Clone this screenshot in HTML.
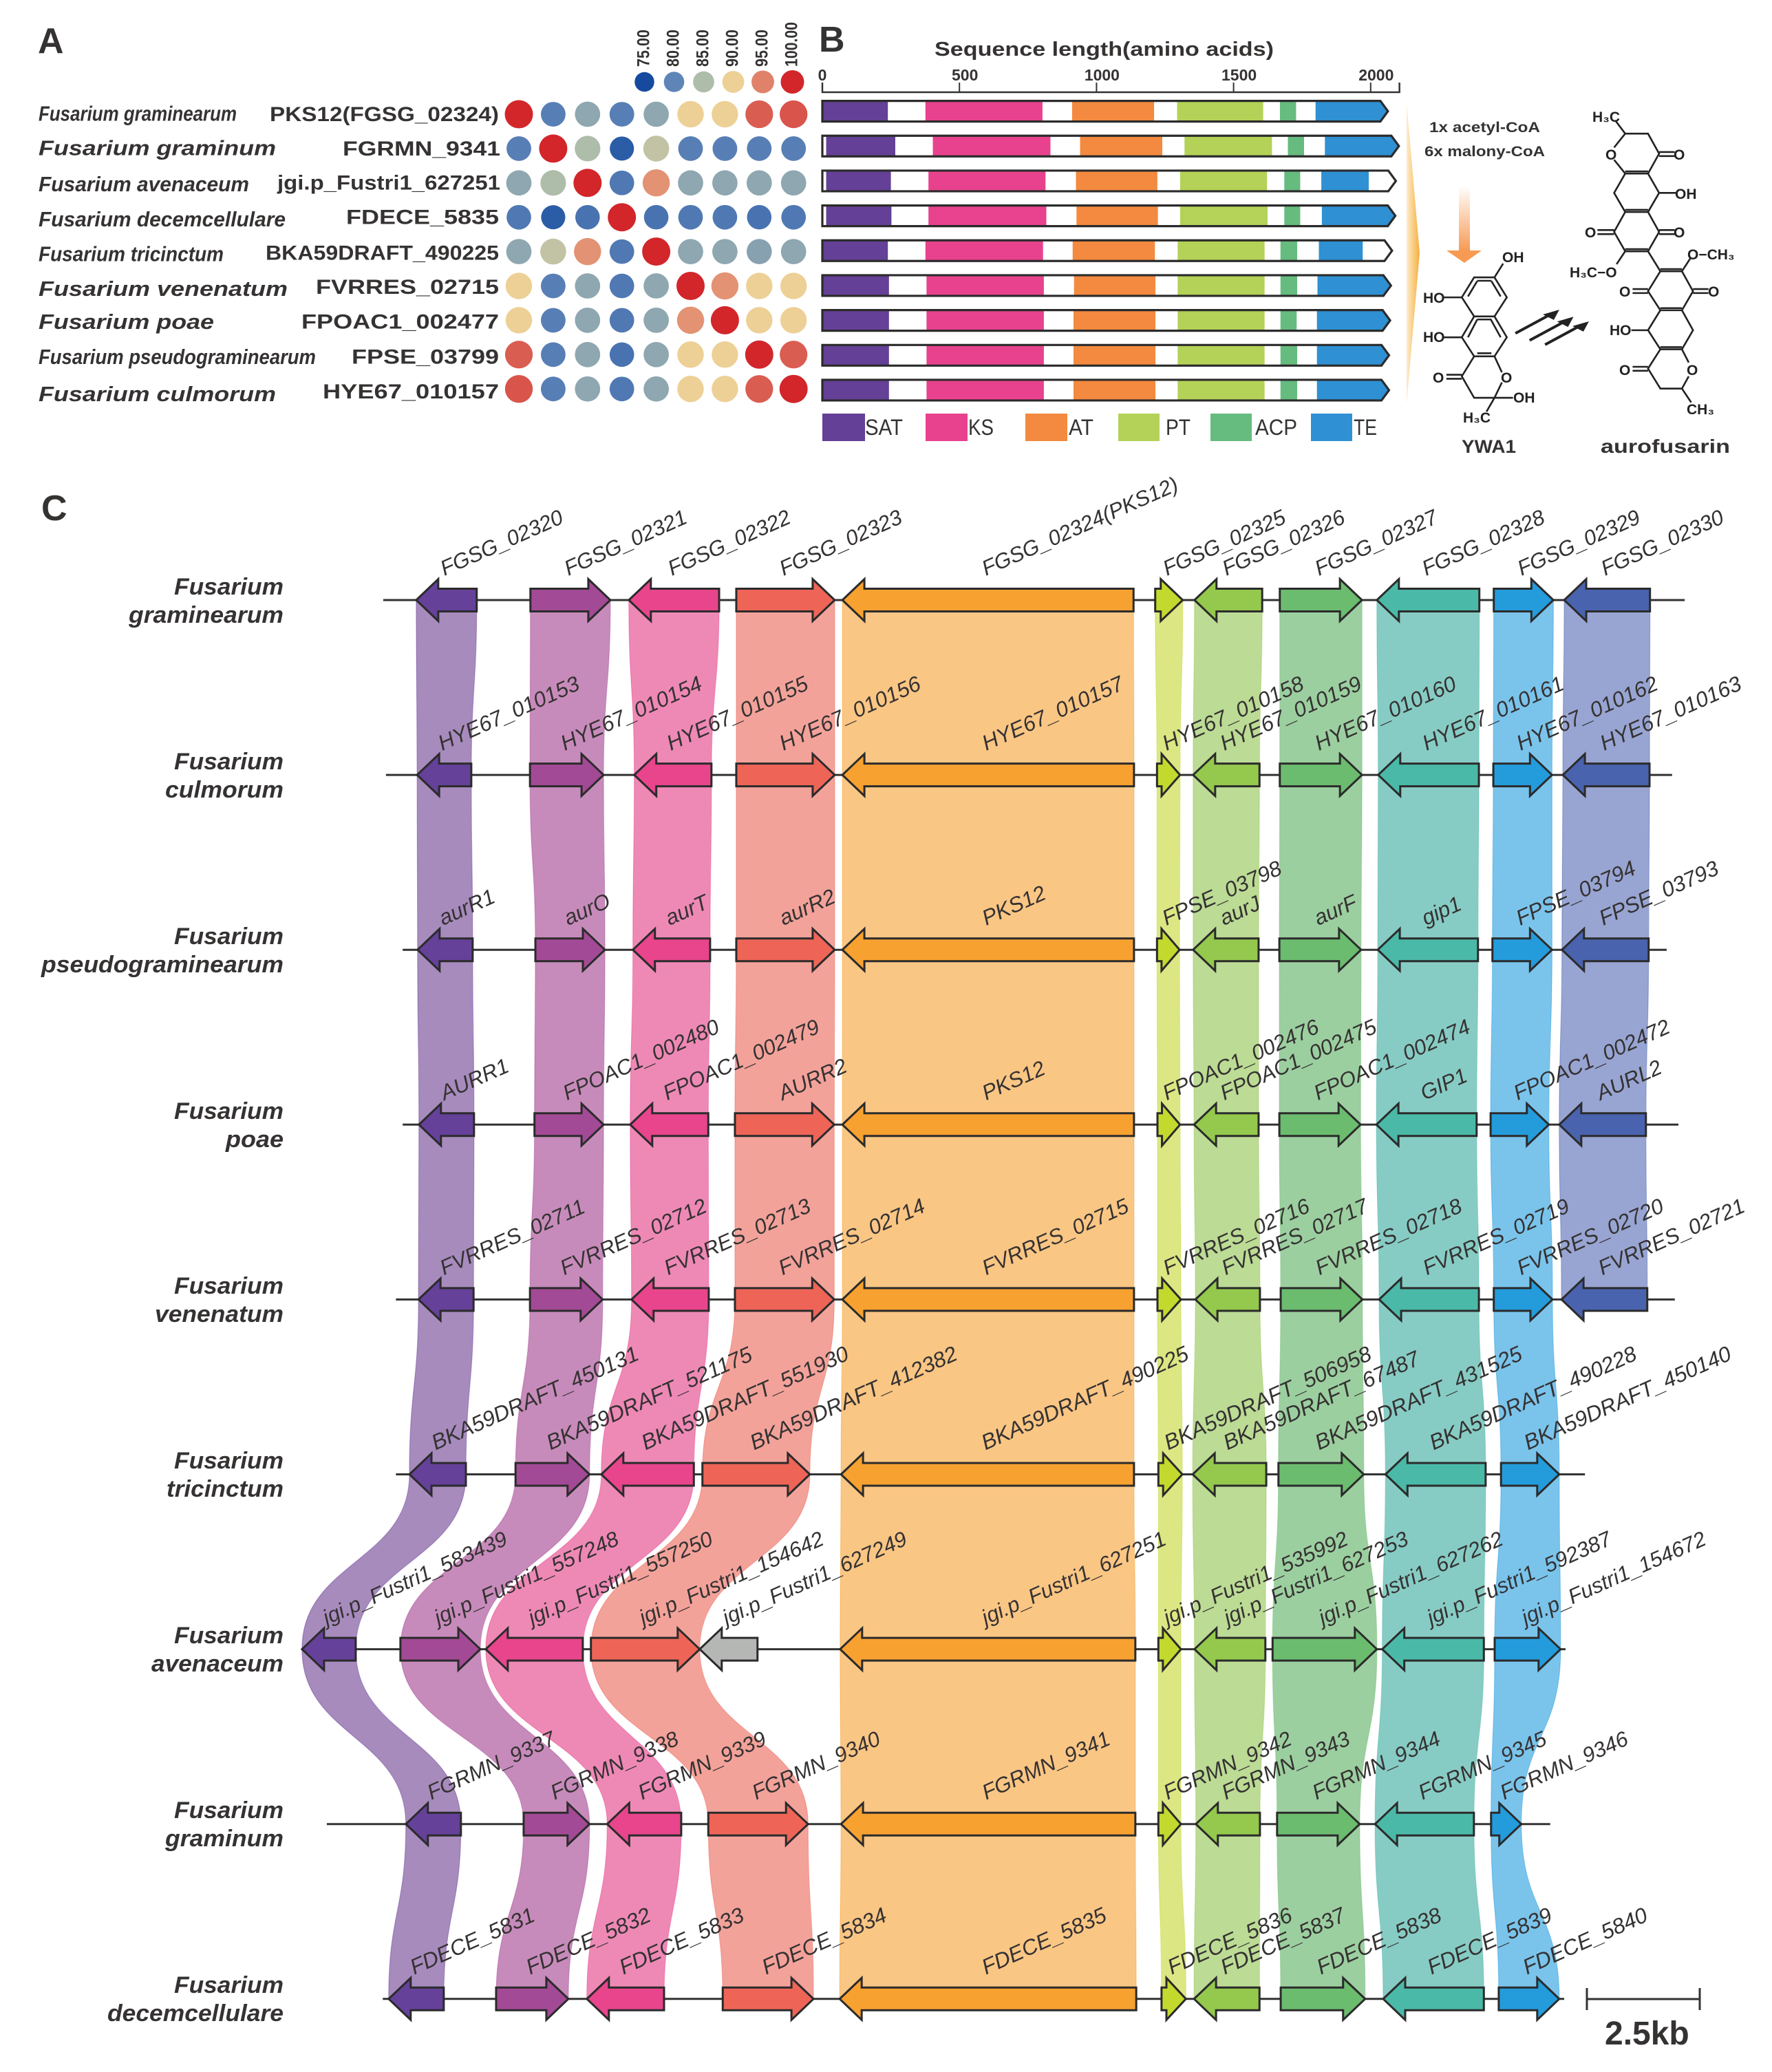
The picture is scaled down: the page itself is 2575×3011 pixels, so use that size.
<!DOCTYPE html>
<html lang="en">
<head>
<meta charset="utf-8">
<title>Aurofusarin PKS12 gene cluster comparison</title>
<style>
  html,body{margin:0;padding:0;background:#fff;}
  svg{display:block;}
  text{font-family:"Liberation Sans",sans-serif;fill:#353232;}
  .letter{font-size:52px;font-weight:700;}
  .sp{font-size:31px;font-weight:700;font-style:italic;}
  .gid{font-size:30px;font-weight:700;}
  .spc{font-size:34px;font-weight:700;font-style:italic;text-anchor:end;}
  .leg{font-size:32px;}
  .chem{font-size:21px;font-weight:700;fill:#222;}
  .bond path,.bond polygon{vector-effect:non-scaling-stroke;}
</style>
</head>
<body>
<svg id="figure" xmlns="http://www.w3.org/2000/svg" width="2575" height="3011" viewBox="0 0 2575 3011">
  <defs>
    <linearGradient id="fanGrad" x1="0" y1="0" x2="1" y2="0"><stop offset="0" stop-color="#fdeccb"/><stop offset="1" stop-color="#f5ae3f"/></linearGradient>
    <linearGradient id="arrowGrad" x1="0" y1="0" x2="0" y2="1"><stop offset="0" stop-color="#ffffff"/><stop offset="1" stop-color="#f79a54"/></linearGradient>
  </defs>
  <rect width="2575" height="3011" fill="#fff"/>

  <text class="letter" x="55" y="77">A</text>
  <text class="letter" x="1190" y="75">B</text>
  <text class="letter" x="60" y="756">C</text>

  <g id="panelA">
    <g>
      <text class="sp" x="56" y="175.5" textLength="288" lengthAdjust="spacingAndGlyphs">Fusarium graminearum</text>
      <text class="sp" x="56" y="225.7" textLength="345" lengthAdjust="spacingAndGlyphs">Fusarium graminum</text>
      <text class="sp" x="56" y="278" textLength="306" lengthAdjust="spacingAndGlyphs">Fusarium avenaceum</text>
      <text class="sp" x="56" y="329" textLength="359" lengthAdjust="spacingAndGlyphs">Fusarium decemcellulare</text>
      <text class="sp" x="56" y="379.6" textLength="269" lengthAdjust="spacingAndGlyphs">Fusarium tricinctum</text>
      <text class="sp" x="56" y="430" textLength="362" lengthAdjust="spacingAndGlyphs">Fusarium venenatum</text>
      <text class="sp" x="56" y="478" textLength="255" lengthAdjust="spacingAndGlyphs">Fusarium poae</text>
      <text class="sp" x="56" y="529" textLength="403" lengthAdjust="spacingAndGlyphs">Fusarium pseudograminearum</text>
      <text class="sp" x="56" y="583" textLength="345" lengthAdjust="spacingAndGlyphs">Fusarium culmorum</text>
    </g>
    <g>
      <text class="gid" x="392" y="176" textLength="333" lengthAdjust="spacingAndGlyphs">PKS12(FGSG_02324)</text>
      <text class="gid" x="498" y="226" textLength="229" lengthAdjust="spacingAndGlyphs">FGRMN_9341</text>
      <text class="gid" x="403" y="275.5" textLength="324" lengthAdjust="spacingAndGlyphs">jgi.p_Fustri1_627251</text>
      <text class="gid" x="503" y="325.7" textLength="222" lengthAdjust="spacingAndGlyphs">FDECE_5835</text>
      <text class="gid" x="386" y="377.5" textLength="339" lengthAdjust="spacingAndGlyphs">BKA59DRAFT_490225</text>
      <text class="gid" x="459" y="427" textLength="266" lengthAdjust="spacingAndGlyphs">FVRRES_02715</text>
      <text class="gid" x="438" y="477.5" textLength="287" lengthAdjust="spacingAndGlyphs">FPOAC1_002477</text>
      <text class="gid" x="511" y="528.6" textLength="214" lengthAdjust="spacingAndGlyphs">FPSE_03799</text>
      <text class="gid" x="469" y="579" textLength="256" lengthAdjust="spacingAndGlyphs">HYE67_010157</text>
    </g>
    <g id="dots"></g>
    <g id="dotLegend"></g>
  </g>

  <g id="panelB">
    <text x="1358" y="81" font-size="29" font-weight="700" textLength="493" lengthAdjust="spacingAndGlyphs">Sequence length(amino acids)</text>
    <g id="bAxis"></g>
    <g id="bBars"></g>
    <g>
      <rect x="1195" y="601" width="62" height="40" fill="#644096"/>
      <text class="leg" x="1257" y="632" textLength="55" lengthAdjust="spacingAndGlyphs">SAT</text>
      <rect x="1345" y="601" width="61" height="40" fill="#e8428e"/>
      <text class="leg" x="1407" y="632" textLength="37" lengthAdjust="spacingAndGlyphs">KS</text>
      <rect x="1490" y="601" width="61" height="40" fill="#f38a3f"/>
      <text class="leg" x="1553" y="632" textLength="36" lengthAdjust="spacingAndGlyphs">AT</text>
      <rect x="1625" y="601" width="60" height="40" fill="#b3d257"/>
      <text class="leg" x="1694" y="632" textLength="36" lengthAdjust="spacingAndGlyphs">PT</text>
      <rect x="1759" y="601" width="60" height="40" fill="#66bb7f"/>
      <text class="leg" x="1824" y="632" textLength="61" lengthAdjust="spacingAndGlyphs">ACP</text>
      <rect x="1905" y="601" width="60" height="40" fill="#2f90d3"/>
      <text class="leg" x="1967" y="632" textLength="34" lengthAdjust="spacingAndGlyphs">TE</text>
    </g>
    <polygon points="2044,150 2063,368 2044,587" fill="url(#fanGrad)"/>
    <text x="2077" y="192" font-size="21" font-weight="700" textLength="161" lengthAdjust="spacingAndGlyphs">1x acetyl-CoA</text>
    <text x="2070" y="227" font-size="21" font-weight="700" textLength="175" lengthAdjust="spacingAndGlyphs">6x malony-CoA</text>
    <rect x="2120" y="270" width="16" height="95" fill="url(#arrowGrad)"/>
    <polygon points="2102,364 2153,364 2128,382" fill="#f79a54"/>

    <g class="bond" transform="translate(1170 0) scale(0.896 0.4464)" fill="none" stroke="#222" stroke-width="2.6">
      <path d="M1085 903L1118 903L1138 968L1118 1030L1085 1030L1065 968Z M1118 1030L1138 1098L1118 1160L1085 1160L1065 1098L1085 1030 M1085 1160L1065 1225L1085 1295L1118 1295 M1118 1160L1130 1212 M1130 1245L1118 1295 M1090 914L1113 914 M1128 965L1113 915 M1075 965L1090 915 M1090 1040L1113 1040 M1128 1098L1112 1040 M1075 1098L1090 1040 M1090 1150L1113 1150 M1118 903L1132 858 M1036 968L1065 968 M1036 1098L1065 1098 M1040 1220L1065 1220 M1040 1233L1065 1233 M1118 1295L1148 1295 M1118 1295L1105 1340"/>
    </g>
    <g class="bond" transform="translate(1170 0) scale(0.896 0.4464)" fill="none" stroke="#222" stroke-width="2.6">
      <path d="M1315 395L1330 435L1367 435L1385 500L1367 565L1330 565L1312 520 M1312 480L1330 435 M1330 565L1312 628L1330 690L1367 690L1385 628L1367 565 M1330 558L1367 558 M1330 690L1312 755L1330 818L1367 818L1385 755L1367 690 M1330 683L1367 683 M1330 811L1367 811 M1385 495L1410 495 M1385 508L1410 508 M1385 628L1412 628 M1285 749L1312 749 M1285 762L1312 762 M1385 749L1410 749 M1385 762L1410 762 M1330 818L1316 860 M1367 818L1387 883L1422 883L1440 948L1422 1010L1387 1010L1367 948L1387 883 M1387 876L1422 876 M1422 883L1436 840 M1342 941L1367 941 M1342 954L1367 954 M1440 941L1465 941 M1440 954L1465 954 M1387 1010L1367 1075L1387 1137L1422 1137L1440 1075L1422 1010 M1387 1003L1422 1003 M1340 1075L1367 1075 M1387 1137L1367 1200L1387 1265L1422 1265L1433 1225 M1433 1180L1422 1137 M1387 1130L1422 1130 M1342 1194L1367 1194 M1342 1207L1367 1207 M1422 1265L1437 1310"/>
    </g>
    <g class="bond" transform="translate(1170 0) scale(0.896 0.4464)" stroke="#222" stroke-width="4" fill="#222">
      <path d="M1152 1085L1212 1020 M1175 1108L1235 1043 M1200 1122L1260 1057" fill="none"/>
      <polygon stroke-width="1" points="1222,1010 1198,1024 1214,1040"/>
      <polygon stroke-width="1" points="1245,1033 1221,1047 1237,1063"/>
      <polygon stroke-width="1" points="1270,1048 1246,1062 1262,1078"/>
    </g>
    <g>
      <text class="chem" x="2183" y="381">OH</text>
      <text class="chem" x="2068" y="440">HO</text>
      <text class="chem" x="2068" y="497">HO</text>
      <text class="chem" x="2082" y="556">O</text>
      <text class="chem" x="2181" y="556">O</text>
      <text class="chem" x="2199" y="585">OH</text>
      <text class="chem" x="2126" y="614">H₃C</text>
      <text x="2124" y="658" font-size="27" font-weight="700" textLength="79" lengthAdjust="spacingAndGlyphs">YWA1</text>
      <text x="2326" y="658" font-size="28" font-weight="700" textLength="188" lengthAdjust="spacingAndGlyphs">aurofusarin</text>
      <text class="chem" x="2314" y="177">H₃C</text>
      <text class="chem" x="2333" y="232">O</text>
      <text class="chem" x="2432" y="232">O</text>
      <text class="chem" x="2434" y="289">OH</text>
      <text class="chem" x="2303" y="345">O</text>
      <text class="chem" x="2432" y="345">O</text>
      <text class="chem" x="2281" y="403">H₃C−O</text>
      <text class="chem" x="2452" y="377">O−CH₃</text>
      <text class="chem" x="2353" y="431">O</text>
      <text class="chem" x="2482" y="431">O</text>
      <text class="chem" x="2339" y="487">HO</text>
      <text class="chem" x="2353" y="545">O</text>
      <text class="chem" x="2451" y="545">O</text>
      <text class="chem" x="2451" y="602">CH₃</text>
    </g>
  </g>

  <g id="panelC">
    <g id="ribbons"></g>
    <g id="spines"></g>
    <g id="genes"></g>
    <g id="geneLabels"></g>
    <g>
      <text class="spc" x="412" y="864" textLength="159" lengthAdjust="spacingAndGlyphs">Fusarium</text>
      <text class="spc" x="412" y="905" textLength="225" lengthAdjust="spacingAndGlyphs">graminearum</text>
      <text class="spc" x="412" y="1118" textLength="159" lengthAdjust="spacingAndGlyphs">Fusarium</text>
      <text class="spc" x="412" y="1159" textLength="172" lengthAdjust="spacingAndGlyphs">culmorum</text>
      <text class="spc" x="412" y="1372" textLength="159" lengthAdjust="spacingAndGlyphs">Fusarium</text>
      <text class="spc" x="412" y="1413" textLength="352" lengthAdjust="spacingAndGlyphs">pseudograminearum</text>
      <text class="spc" x="412" y="1626" textLength="159" lengthAdjust="spacingAndGlyphs">Fusarium</text>
      <text class="spc" x="412" y="1667" textLength="84" lengthAdjust="spacingAndGlyphs">poae</text>
      <text class="spc" x="412" y="1880" textLength="159" lengthAdjust="spacingAndGlyphs">Fusarium</text>
      <text class="spc" x="412" y="1921" textLength="187" lengthAdjust="spacingAndGlyphs">venenatum</text>
      <text class="spc" x="412" y="2134" textLength="159" lengthAdjust="spacingAndGlyphs">Fusarium</text>
      <text class="spc" x="412" y="2175" textLength="170" lengthAdjust="spacingAndGlyphs">tricinctum</text>
      <text class="spc" x="412" y="2388" textLength="159" lengthAdjust="spacingAndGlyphs">Fusarium</text>
      <text class="spc" x="412" y="2429" textLength="192" lengthAdjust="spacingAndGlyphs">avenaceum</text>
      <text class="spc" x="412" y="2642" textLength="159" lengthAdjust="spacingAndGlyphs">Fusarium</text>
      <text class="spc" x="412" y="2683" textLength="172" lengthAdjust="spacingAndGlyphs">graminum</text>
      <text class="spc" x="412" y="2896" textLength="159" lengthAdjust="spacingAndGlyphs">Fusarium</text>
      <text class="spc" x="412" y="2937" textLength="256" lengthAdjust="spacingAndGlyphs">decemcellulare</text>
    </g>
    <g id="scaleBar"></g>
  </g>
</svg>

<script>
/* ---------- Panel A data: pairwise identity (%) ---------- */
const identityLegendValues = [75, 80, 85, 90, 95, 100];
const identityLegendColors = ['#154a9e', '#5f85b8', '#aebdaa', '#edd096', '#e0826a', '#d2262b'];
const identityGraminearum    = [100, 79.5, 83, 79.5, 83, 90, 90, 97, 97.5];
const identityGraminum       = [79.5, 100, 85, 76.5, 86.5, 79.5, 79.5, 79.5, 79.5];
const identityAvenaceum      = [83, 85, 100, 79, 94, 83, 83, 83, 83];
const identityDecemcellulare = [79, 76.5, 78.5, 100, 78.5, 79, 79, 78.5, 79];
const identityTricinctum     = [83, 86.5, 94, 79, 100, 83, 83, 82.5, 83];
const identityVenenatum      = [90, 79.5, 83, 79, 83, 100, 94, 90, 90];
const identityPoae           = [90, 79.5, 83, 79, 83, 94, 100, 90, 90];
const identityPseudo         = [97, 79.5, 83, 78.5, 83, 90, 90, 100, 97];
const identityCulmorum       = [97.5, 79.5, 83, 79, 83, 90, 90, 97, 100];
const identityMatrix = [identityGraminearum, identityGraminum, identityAvenaceum, identityDecemcellulare, identityTricinctum, identityVenenatum, identityPoae, identityPseudo, identityCulmorum];

/* ---------- Panel B data: domain boundaries (amino acids) ---------- */
const axisTicks = [0, 500, 1000, 1500, 2000];
const axisMax = 2105;
const proteinLength = [2063, 2103, 2092, 2090, 2078, 2074, 2071, 2067, 2067];
const proteinStart  = [0, 0, 0, 0, 0, 0, 0, 0, 0];
const domainNames = ['SAT', 'KS', 'AT', 'PT', 'ACP', 'TE'];
const satStart = [0, 14, 14, 14, 0, 0, 0, 0, 0];
const satEnd   = [239, 266, 250, 252, 239, 243, 243, 243, 243];
const ksStart  = [376, 403, 387, 387, 376, 380, 380, 380, 380];
const ksEnd    = [803, 832, 814, 817, 805, 808, 808, 808, 808];
const atStart  = [911, 940, 925, 927, 913, 918, 916, 916, 916];
const atEnd    = [1210, 1240, 1222, 1224, 1213, 1215, 1215, 1215, 1215];
const ptStart  = [1294, 1321, 1305, 1305, 1296, 1296, 1296, 1296, 1296];
const ptEnd    = [1608, 1640, 1622, 1624, 1613, 1613, 1613, 1613, 1613];
const acpStart = [1669, 1698, 1685, 1685, 1671, 1671, 1671, 1671, 1671];
const acpEnd   = [1728, 1757, 1743, 1743, 1732, 1732, 1730, 1732, 1732];
const teStart  = [1799, 1833, 1820, 1822, 1811, 1806, 1804, 1804, 1804];
const teEnd    = [2063, 2103, 1993, 2090, 1971, 2074, 2071, 2067, 2067];

/* ---------- Panel C data: gene coordinates (kb) ---------- */
const scaleBarKb = 2.5;
const namesGraminearum = ['FGSG_02320','FGSG_02321','FGSG_02322','FGSG_02323','FGSG_02324(PKS12)','FGSG_02325','FGSG_02326','FGSG_02327','FGSG_02328','FGSG_02329','FGSG_02330'];
const startsGraminearum = [9.22,11.75,13.93,16.31,18.66,25.59,26.46,28.35,30.50,33.09,34.65];
const endsGraminearum   = [10.56,13.52,15.93,18.49,25.11,26.20,27.96,30.17,32.77,34.41,36.55];
const namesCulmorum = ['HYE67_010153','HYE67_010154','HYE67_010155','HYE67_010156','HYE67_010157','HYE67_010158','HYE67_010159','HYE67_010160','HYE67_010161','HYE67_010162','HYE67_010163'];
const startsCulmorum = [9.24,11.74,14.05,16.31,18.66,25.63,26.43,28.35,30.53,33.08,34.62];
const endsCulmorum   = [10.44,13.37,15.76,18.49,25.12,26.14,27.90,30.17,32.76,34.38,36.54];
const namesPseudo = ['aurR1','aurO','aurT','aurR2','PKS12','FPSE_03798','aurJ','aurF','gip1','FPSE_03794','FPSE_03793'];
const startsPseudo = [9.25,11.86,14.02,16.31,18.66,25.63,26.43,28.34,30.52,33.06,34.60];
const endsPseudo   = [10.47,13.40,15.73,18.49,25.12,26.13,27.88,30.15,32.74,34.38,36.52];
const namesPoae = ['AURR1','FPOAC1_002480','FPOAC1_002479','AURR2','PKS12','FPOAC1_002476','FPOAC1_002475','FPOAC1_002474','GIP1','FPOAC1_002472','AURL2'];
const startsPoae = [9.28,11.84,13.96,16.28,18.66,25.64,26.45,28.34,30.49,33.02,34.54];
const endsPoae   = [10.50,13.37,15.69,18.48,25.12,26.14,27.88,30.14,32.71,34.31,36.46];
const namesVenenatum = ['FVRRES_02711','FVRRES_02712','FVRRES_02713','FVRRES_02714','FVRRES_02715','FVRRES_02716','FVRRES_02717','FVRRES_02718','FVRRES_02719','FVRRES_02720','FVRRES_02721'];
const startsVenenatum = [9.27,11.74,13.99,16.28,18.66,25.64,26.48,28.37,30.55,33.09,34.59];
const endsVenenatum   = [10.49,13.35,15.70,18.48,25.12,26.16,27.91,30.18,32.76,34.39,36.49];
const namesTricinctum = ['BKA59DRAFT_450131','BKA59DRAFT_521175','BKA59DRAFT_551930','BKA59DRAFT_412382','BKA59DRAFT_490225','BKA59DRAFT_506958','BKA59DRAFT_67487','BKA59DRAFT_431525','BKA59DRAFT_490228','BKA59DRAFT_450140'];
const startsTricinctum = [9.07,11.42,13.32,15.56,18.63,25.66,26.42,28.32,30.69,33.25];
const endsTricinctum   = [10.32,13.06,15.37,17.94,25.12,26.19,28.05,30.21,32.91,34.54];
const namesAvenaceum = ['jgi.p_Fustri1_583439','jgi.p_Fustri1_557248','jgi.p_Fustri1_557250','jgi.p_Fustri1_154642','jgi.p_Fustri1_627249','jgi.p_Fustri1_627251','jgi.p_Fustri1_535992','jgi.p_Fustri1_627253','jgi.p_Fustri1_627262','jgi.p_Fustri1_592387','jgi.p_Fustri1_154672'];
const startsAvenaceum = [6.69,8.87,10.76,13.09,15.50,18.61,25.66,26.46,28.19,30.62,33.11];
const endsAvenaceum   = [7.88,10.64,12.91,15.50,16.78,25.15,26.16,28.03,30.50,32.87,34.57];
const namesGraminum = ['FGRMN_9337','FGRMN_9338','FGRMN_9339','FGRMN_9340','FGRMN_9341','FGRMN_9342','FGRMN_9343','FGRMN_9344','FGRMN_9345','FGRMN_9346'];
const startsGraminum = [8.99,11.60,13.45,15.69,18.63,25.66,26.49,28.29,30.46,33.03];
const endsGraminum   = [10.21,13.06,15.09,17.90,25.15,26.16,27.91,30.12,32.65,33.70];
const namesDecem = ['FDECE_5831','FDECE_5832','FDECE_5833','FDECE_5834','FDECE_5835','FDECE_5836','FDECE_5837','FDECE_5838','FDECE_5839','FDECE_5840'];
const startsDecem = [8.61,10.99,13.00,16.01,18.60,25.73,26.45,28.37,30.64,33.20];
const endsDecem   = [9.83,12.59,14.71,18.02,25.17,26.27,27.90,30.24,32.87,34.54];

const strandsFull = [-1,1,-1,1,-1,1,-1,1,-1,1,-1];
const strandsShort = [-1,1,-1,1,-1,1,-1,1,-1,1];
const strandsAvenaceum = [-1,1,-1,1,-1,-1,1,-1,1,-1,1];
const familiesFull = [0,1,2,3,4,5,6,7,8,9,10];
const familiesShort = [0,1,2,3,4,5,6,7,8,9];
const familiesAvenaceum = [0,1,2,3,-1,4,5,6,7,8,9];
const spineStarts = [8.49,8.55,8.92,8.92,8.77,8.77,6.69,7.24,8.48];
const spineEnds   = [37.32,37.04,36.92,37.18,37.10,35.11,34.68,34.34,34.65];

const geneNames  = [namesGraminearum,namesCulmorum,namesPseudo,namesPoae,namesVenenatum,namesTricinctum,namesAvenaceum,namesGraminum,namesDecem];
const geneStarts = [startsGraminearum,startsCulmorum,startsPseudo,startsPoae,startsVenenatum,startsTricinctum,startsAvenaceum,startsGraminum,startsDecem];
const geneEnds   = [endsGraminearum,endsCulmorum,endsPseudo,endsPoae,endsVenenatum,endsTricinctum,endsAvenaceum,endsGraminum,endsDecem];
const geneStrands = [strandsFull,strandsFull,strandsFull,strandsFull,strandsFull,strandsShort,strandsAvenaceum,strandsShort,strandsShort];
const geneFamilies = [familiesFull,familiesFull,familiesFull,familiesFull,familiesFull,familiesShort,familiesAvenaceum,familiesShort,familiesShort];

/* ---------- Style tables ---------- */
const domainColors = ['#644096','#e8428e','#f38a3f','#b3d257','#66bb7f','#2f90d3'];
const geneColors   = ['#65419a','#a34a96','#e8458c','#ee6558','#f7a130','#c4d92e','#94c94d','#6cbc6f','#4bb9a8','#249cdc','#4a63ae'];
const ribbonColors = ['#a78bbd','#c78bbb','#ee89b6','#f3a29a','#fac684','#dce784','#bcdb95','#9ccfa0','#87ccc4','#7ac4ec','#98a5d3'];
const labelFontSizes = [31,31.3,31.3,31,31,31.5,31,31,31.5];

const SVGNS = 'http://www.w3.org/2000/svg';
function make(parent, tag, attrs, text) {
  const node = document.createElementNS(SVGNS, tag);
  for (const k in attrs) node.setAttribute(k, attrs[k]);
  if (text !== undefined) node.textContent = text;
  parent.appendChild(node);
  return node;
}
function hexToRgb(h) { return [1,3,5].map(i => parseInt(h.substr(i,2),16)); }
function identityColor(v) {
  const n = identityLegendValues.length;
  if (v <= identityLegendValues[0]) return identityLegendColors[0];
  for (let i = 1; i < n; i++) {
    if (v <= identityLegendValues[i]) {
      const t = (v - identityLegendValues[i-1]) / (identityLegendValues[i] - identityLegendValues[i-1]);
      const a = hexToRgb(identityLegendColors[i-1]), b = hexToRgb(identityLegendColors[i]);
      return 'rgb(' + a.map((c,j) => Math.round(c + (b[j]-c)*t)).join(',') + ')';
    }
  }
  return identityLegendColors[n-1];
}

/* ---------- Panel A ---------- */
const dotsG = document.getElementById('dots');
const dotColX = c => 754 + 49.9 * c;
const dotRowY = r => 166 + 49.9 * r;
const dotRadius = v => (36 + (v - 80) * 0.25) / 2;
identityMatrix.forEach((row, r) => row.forEach((v, c) => {
  const dot = make(dotsG, 'circle', {cx: dotColX(c), cy: dotRowY(r), r: dotRadius(v), fill: identityColor(v)});
  
  
}));
const legendG = document.getElementById('dotLegend');
const legendX = i => 936.5 + 43 * i;
const legendR = v => (28.5 + (v - 75) * 0.22) / 2;
identityLegendValues.forEach((v, i) => {
  const dot = make(legendG, 'circle', {cx: legendX(i), cy: 119, r: legendR(v), fill: identityLegendColors[i]});
  
  
  const bx = legendX(i) + 7;
  const label = make(legendG, 'text', {x: bx, y: 97, transform: 'rotate(-90 ' + bx + ' 97)', 'font-size': 25, 'font-weight': 700, textLength: v === 100 ? 65 : 54, lengthAdjust: 'spacingAndGlyphs'}, v.toFixed(2));
  
  
});

/* ---------- Panel B ---------- */
const aaX = aa => 1195 + aa * 0.3984;
const barY = r => 161.6 + 50.67 * r;
const axisG = document.getElementById('bAxis');
const axisLine = make(axisG, 'path', {d: 'M' + aaX(0) + ' 120V134H' + aaX(axisMax) + 'V120', fill: 'none', stroke: '#333', 'stroke-width': 2.5});


axisTicks.forEach(t => {
  const tick = make(axisG, 'line', {x1: aaX(t), x2: aaX(t), y1: 120, y2: 134, stroke: '#333', 'stroke-width': 2});
  
  
  const lab = make(axisG, 'text', {x: aaX(t) + (t === 0 ? 0 : 8), y: 117, 'text-anchor': 'middle', 'font-size': 23, 'font-weight': 700}, String(t));
  
  
});
const barsG = document.getElementById('bBars');
const domainStarts = [satStart, ksStart, atStart, ptStart, acpStart, teStart];
const domainEnds = [satEnd, ksEnd, atEnd, ptEnd, acpEnd, teEnd];
proteinLength.forEach((len, r) => {
  const y = barY(r), h = 15, tip = 11;
  const x0 = aaX(proteinStart[r]), x1 = aaX(len);
  const shape = 'M' + x0 + ' ' + (y-h) + 'H' + (x1-tip) + 'L' + x1 + ' ' + y + 'L' + (x1-tip) + ' ' + (y+h) + 'H' + x0 + 'Z';
  const bar = make(barsG, 'g', {});
  
  
  const clip = make(bar, 'clipPath', {id: 'barClip' + r});
  make(clip, 'path', {d: shape});
  make(bar, 'path', {d: shape, fill: '#fff'});
  domainNames.forEach((nm, d) => {
    const seg = make(bar, 'rect', {x: aaX(domainStarts[d][r]), y: y-h, width: aaX(domainEnds[d][r]) - aaX(domainStarts[d][r]), height: 2*h, fill: domainColors[d], 'clip-path': 'url(#barClip' + r + ')'});
    
    
  });
  make(bar, 'path', {d: shape, fill: 'none', stroke: '#2b2b2b', 'stroke-width': 3.2});
});

/* ---------- Panel C ---------- */
const KB_PX = 65.6;
const kbX = kb => kb * KB_PX;
const rowY = r => 872 + 254.1 * r;
const ribbonsG = document.getElementById('ribbons');
const spinesG = document.getElementById('spines');
const genesG = document.getElementById('genes');
const labelsG = document.getElementById('geneLabels');

/* ribbons between adjacent genomes, joined by gene family */
for (let r = 0; r < geneNames.length - 1; r++) {
  geneFamilies[r].forEach((fam, i) => {
    if (fam < 0) return;
    const j = geneFamilies[r+1].indexOf(fam);
    if (j < 0) return;
    const a0 = kbX(geneStarts[r][i]), a1 = kbX(geneEnds[r][i]);
    const b0 = kbX(geneStarts[r+1][j]), b1 = kbX(geneEnds[r+1][j]);
    const y0 = rowY(r), y1 = rowY(r+1), c0 = y0 + (y1-y0)*0.5, c1 = y1 - (y1-y0)*0.5;
    const d = 'M' + a0 + ' ' + y0 + 'C' + a0 + ' ' + c0 + ' ' + b0 + ' ' + c1 + ' ' + b0 + ' ' + y1 +
              'L' + b1 + ' ' + y1 + 'C' + b1 + ' ' + c1 + ' ' + a1 + ' ' + c0 + ' ' + a1 + ' ' + y0 + 'Z';
    const rib = make(ribbonsG, 'path', {d: d, fill: ribbonColors[fam], stroke: geneColors[fam], 'stroke-opacity': 0.45, 'stroke-width': 1.2});
    
    
  });
}

/* spines, arrows and labels */
const SHAFT = 16.5, HEAD = 30.5, HEADLEN = 32;
geneNames.forEach((names, r) => {
  const y = rowY(r);
  const spine = make(spinesG, 'line', {x1: kbX(spineStarts[r]), x2: kbX(spineEnds[r]), y1: y, y2: y, stroke: '#333', 'stroke-width': 3});
  
  
  names.forEach((name, i) => {
    const x0 = kbX(geneStarts[r][i]), x1 = kbX(geneEnds[r][i]);
    const fam = geneFamilies[r][i];
    const hl = Math.min(HEADLEN, (x1 - x0) * 0.8);
    let d;
    if (geneStrands[r][i] > 0) {
      d = 'M' + x0 + ' ' + (y-SHAFT) + 'H' + (x1-hl) + 'V' + (y-HEAD) + 'L' + x1 + ' ' + y + 'L' + (x1-hl) + ' ' + (y+HEAD) + 'V' + (y+SHAFT) + 'H' + x0 + 'Z';
    } else {
      d = 'M' + x1 + ' ' + (y-SHAFT) + 'H' + (x0+hl) + 'V' + (y-HEAD) + 'L' + x0 + ' ' + y + 'L' + (x0+hl) + ' ' + (y+HEAD) + 'V' + (y+SHAFT) + 'H' + x1 + 'Z';
    }
    const gene = make(genesG, 'path', {d: d, fill: fam < 0 ? '#b5b7b5' : geneColors[fam], stroke: '#2b2b2b', 'stroke-width': 3, 'stroke-linejoin': 'miter'});
    
    
    const lx = (x0 + x1) / 2 - 3, ly = y - 35;
    const label = make(labelsG, 'text', {x: lx, y: ly, transform: 'rotate(-24 ' + lx + ' ' + ly + ')', 'font-size': labelFontSizes[r], 'font-style': 'italic', fill: '#333'}, name);
    
    
  });
});

/* scale bar */
const scaleG = document.getElementById('scaleBar');
const sbX0 = 2306, sbX1 = sbX0 + kbX(scaleBarKb), sbY = 2905;
const sbPath = make(scaleG, 'path', {d: 'M' + sbX0 + ' ' + (sbY-16) + 'V' + (sbY+16) + 'M' + sbX0 + ' ' + sbY + 'H' + sbX1 + 'M' + sbX1 + ' ' + (sbY-16) + 'V' + (sbY+16), fill: 'none', stroke: '#333', 'stroke-width': 3});


const sbLabel = make(scaleG, 'text', {x: 2332, y: 2971, 'font-size': 48, 'font-weight': 700}, scaleBarKb + 'kb');


</script>
</body>
</html>
